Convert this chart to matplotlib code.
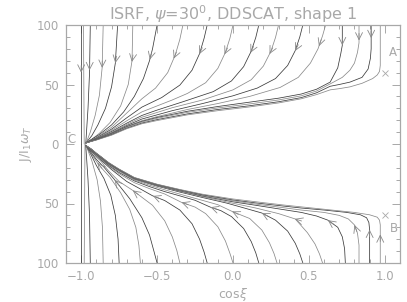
import numpy as np
import matplotlib
matplotlib.use("Agg")
import matplotlib.pyplot as plt

# ---------------- data ----------------
# upper family: trajectories entering from J = +100
upper_c = [
    [-1.0, -1.0],
    [-0.985, -0.98],
    [-0.94, -0.945, -0.955, -0.97],
    [-0.855, -0.862, -0.88, -0.908, -0.94, -0.967],
    [-0.76, -0.775, -0.80, -0.84, -0.89, -0.93, -0.967],
    [-0.66, -0.665, -0.69, -0.74, -0.81, -0.88, -0.93, -0.967],
    [-0.50, -0.53, -0.55, -0.59, -0.65, -0.72, -0.80, -0.88, -0.93, -0.967],
    [-0.33, -0.35, -0.38, -0.43, -0.51, -0.6, -0.7, -0.8, -0.9, -0.967],
    [-0.17, -0.19, -0.22, -0.27, -0.35, -0.47, -0.6, -0.7, -0.8, -0.9, -0.967],
    [0.0, -0.02, -0.05, -0.1, -0.18, -0.3, -0.4, -0.5, -0.6, -0.7, -0.8, -0.9, -0.967],
    [0.17, 0.15, 0.12, 0.07, -0.01, -0.13, -0.33, -0.5, -0.6, -0.7, -0.8, -0.9, -0.967],
    [0.3, 0.28, 0.25, 0.2, 0.12, 0.0, -0.2, -0.4, -0.5, -0.6, -0.7, -0.8, -0.9, -0.967],
    [0.46, 0.44, 0.41, 0.36, 0.28, 0.16, 0.0, -0.2, -0.4, -0.6, -0.7, -0.8, -0.9, -0.967],
    [0.61, 0.59, 0.56, 0.51, 0.43, 0.31, 0.11, -0.1, -0.3, -0.5, -0.6, -0.7, -0.8, -0.9, -0.967],
    [0.72, 0.72, 0.71, 0.69, 0.64, 0.55, 0.45, 0.3, 0.1, -0.1, -0.3, -0.5, -0.6, -0.7, -0.8, -0.9, -0.967],
    [0.83, 0.83, 0.82, 0.8, 0.77, 0.72, 0.64, 0.55, 0.45, 0.3, 0.1, -0.1, -0.3, -0.5, -0.6, -0.7, -0.8, -0.9, -0.967],
    [0.91, 0.91, 0.905, 0.89, 0.85, 0.77, 0.7, 0.64, 0.55, 0.45, 0.3, 0.1, -0.1, -0.3, -0.5, -0.6, -0.7, -0.8, -0.9, -0.967],
    [0.97, 0.97, 0.965, 0.95, 0.92, 0.85, 0.77, 0.7, 0.64, 0.55, 0.45, 0.3, 0.1, -0.1, -0.3, -0.5, -0.6, -0.7, -0.8, -0.9, -0.967],
]
upper_J = [
    [100, 0],
    [100, 0],
    [100, 60, 30, 0],
    [100, 64, 41, 24, 10, 1],
    [100, 68, 48, 30, 16, 7, 1],
    [100, 70, 50, 32, 18, 9, 4, 1],
    [100, 80, 70, 55, 40, 27, 16, 8, 4, 1],
    [100, 88, 75, 60, 47, 38, 26, 14, 5.5, 1],
    [100, 89, 76, 62, 49.5, 39, 31, 22, 12.5, 5, 1],
    [100, 89, 77, 63.5, 51.5, 42.5, 37, 32, 27, 19.5, 11.5, 4.6, 1],
    [100, 89.5, 78, 65, 53, 44, 35.5, 28.5, 24, 17.5, 10.5, 4.3, 1],
    [100, 89.5, 78, 65.5, 54, 45.5, 37, 30.5, 26.5, 22.5, 16.5, 9.8, 4.1, 1],
    [100, 90, 78.5, 66, 55, 47, 40.5, 34, 28, 21, 15.5, 9.2, 3.9, 1],
    [100, 91, 80, 68, 56, 47.5, 40, 34, 29, 23, 19.6, 14.9, 8.8, 3.8, 1],
    [100, 83, 76, 64, 52, 46, 42, 38.5, 35, 31.5, 27.5, 22.3, 19, 14.5, 8.6, 3.7, 1],
    [100, 85, 77, 68, 62, 56, 50.5, 44.5, 40.5, 37, 33.5, 30.3, 26.6, 21.6, 18.5, 14, 8.3, 3.6, 1],
    [100, 80, 72, 63, 56, 52, 50, 48.5, 43, 39, 35.5, 32, 29, 25.3, 20.5, 17.6, 13.3, 7.8, 3.5, 1],
    [100, 66, 61, 58, 55, 51, 48, 46.5, 45.5, 41.5, 38, 34.5, 31, 28, 24.5, 19.7, 17, 12.8, 7.4, 3.3, 1],
]

# lower family: trajectories entering from J = -100
lower_c = [
    [-1.0, -1.0],
    [-0.98, -0.975],
    [-0.94, -0.945, -0.955, -0.97],
    [-0.855, -0.86, -0.873, -0.895, -0.93, -0.967],
    [-0.75, -0.757, -0.775, -0.805, -0.85, -0.9, -0.935, -0.967],
    [-0.61, -0.62, -0.64, -0.68, -0.74, -0.81, -0.86, -0.895, -0.935, -0.967],
    [-0.5, -0.52, -0.55, -0.6, -0.68, -0.78, -0.85, -0.9, -0.935, -0.967],
    [-0.35, -0.37, -0.4, -0.45, -0.53, -0.66, -0.75, -0.82, -0.87, -0.9, -0.935, -0.967],
    [-0.17, -0.19, -0.22, -0.27, -0.35, -0.45, -0.53, -0.6, -0.7, -0.8, -0.87, -0.9, -0.935, -0.967],
    [0.0, -0.02, -0.05, -0.1, -0.18, -0.25, -0.34, -0.45, -0.55, -0.65, -0.75, -0.82, -0.87, -0.9, -0.935, -0.967],
    [0.17, 0.15, 0.12, 0.07, -0.01, -0.08, -0.15, -0.25, -0.35, -0.45, -0.55, -0.65, -0.75, -0.82, -0.87, -0.9, -0.935, -0.967],
    [0.29, 0.27, 0.24, 0.19, 0.11, 0.0, -0.1, -0.2, -0.3, -0.45, -0.55, -0.65, -0.75, -0.82, -0.87, -0.9, -0.935, -0.967],
    [0.46, 0.44, 0.41, 0.36, 0.28, 0.19, 0.08, -0.04, -0.2, -0.35, -0.5, -0.65, -0.75, -0.82, -0.87, -0.9, -0.935, -0.967],
    [0.59, 0.57, 0.54, 0.49, 0.41, 0.3, 0.15, 0.0, -0.2, -0.35, -0.5, -0.65, -0.75, -0.82, -0.87, -0.9, -0.935, -0.967],
    [0.74, 0.735, 0.72, 0.69, 0.625, 0.55, 0.45, 0.3, 0.15, 0.0, -0.2, -0.35, -0.5, -0.65, -0.75, -0.82, -0.87, -0.9, -0.935, -0.967],
    [0.83, 0.83, 0.82, 0.8, 0.76, 0.7, 0.6, 0.45, 0.3, 0.15, 0.0, -0.2, -0.35, -0.5, -0.65, -0.75, -0.82, -0.87, -0.9, -0.935, -0.967],
    [0.9, 0.9, 0.895, 0.88, 0.84, 0.75, 0.6, 0.45, 0.3, 0.15, 0.0, -0.2, -0.35, -0.5, -0.65, -0.75, -0.82, -0.87, -0.9, -0.935, -0.967],
    [0.97, 0.97, 0.965, 0.95, 0.9, 0.8, 0.65, 0.5, 0.35, 0.2, 0.0, -0.2, -0.35, -0.5, -0.65, -0.75, -0.82, -0.87, -0.9, -0.935, -0.967],
]
lower_J = [
    [-100, 0],
    [-100, 0],
    [-100, -60, -30, -1],
    [-100, -70, -48, -30, -14, -1.5],
    [-100, -80, -60, -43, -29, -18, -9, -1.5],
    [-100, -85, -70, -55, -41, -28, -21, -15.5, -8, -1.5],
    [-100, -90.5, -76.5, -62, -46, -30, -19.5, -13, -7, -1.5],
    [-100, -89.5, -78, -64.5, -51.5, -39, -31.5, -22.5, -14.5, -11, -6, -1.5],
    [-100, -91, -80, -67, -55.5, -47.5, -43.5, -38.5, -31.5, -21.5, -13.5, -10, -5.5, -1.5],
    [-100, -92, -81.5, -69.5, -58.5, -53, -49, -42, -37.5, -32.5, -25, -18.5, -12.5, -9.2, -5, -1.5],
    [-100, -91.5, -82, -71, -61, -56, -53, -47.3, -43.6, -40, -35.8, -31, -24, -17.8, -12, -8.8, -4.8, -1.5],
    [-100, -92, -83, -72.3, -62.6, -57, -51, -47.4, -43.9, -38.5, -34.6, -30.3, -23, -17.2, -11.6, -8.5, -4.6, -1.5],
    [-100, -92.3, -83.4, -73.2, -64, -58, -54, -49.7, -45, -40.4, -35.4, -29.5, -22.3, -16.7, -11.3, -8.3, -4.5, -1.5],
    [-100, -92.5, -84, -74.5, -63, -58.5, -53.8, -49.8, -44.3, -39.8, -35, -29.2, -22, -16.4, -11.1, -8.1, -4.4, -1.5],
    [-100, -88, -78, -70, -64, -60.5, -57.5, -54.5, -51.5, -48.6, -43.7, -39.3, -34.6, -28.9, -21.7, -16.1, -10.9, -8, -4.3, -1.5],
    [-100, -85, -75, -68, -63, -60, -57.5, -55.5, -53, -50.5, -47.8, -43.2, -38.9, -34.3, -28.6, -21.5, -15.9, -10.8, -7.9, -4.2, -1.5],
    [-100, -72, -66, -62, -59.5, -57.5, -55.5, -53.8, -51.7, -49.5, -47, -42.7, -38.5, -34, -28.3, -21.3, -15.7, -10.7, -7.8, -4.1, -1.5],
    [-100, -68, -64, -61.5, -59.5, -57.5, -55.5, -53.5, -51.5, -49.3, -46.2, -42.2, -38.2, -33.8, -28.1, -21.1, -15.5, -10.6, -7.7, -4, -1.5],
]

# arrow heads: (curve index, cos xi, J)
upper_arrow_idx = [0, 2, 3, 4, 5, 6, 7, 8, 9, 10, 11, 12, 13, 14, 15, 16]
upper_arrow_c = [-1.0, -0.943, -0.862, -0.776, -0.665, -0.55, -0.395, -0.23, -0.066, 0.11, 0.22, 0.395, 0.57, 0.72, 0.83, 0.91]
upper_arrow_J = [60, 62, 64, 68, 69, 71, 72, 76, 76, 77, 77, 79, 82, 83, 87, 89]
lower_arrow_idx = [5, 6, 7, 8, 9, 10, 11, 12, 13, 14, 15, 16, 17]
lower_arrow_c = [-0.895, -0.78, -0.66, -0.53, -0.34, -0.15, -0.007, 0.19, 0.41, 0.625, 0.8, 0.9, 0.96]
lower_arrow_J = [-16, -30, -39, -44.5, -49.6, -54, -57, -58, -62, -64, -68, -72, -76]

# labelled points
point_labels = ["A", "B", "C"]
point_label_c = [1.05, 1.06, -1.065]
point_label_J = [77, -71, 4]
cross_c = [1.0, 1.0]
cross_J = [60, -60]

xtick_vals = [-1.0, -0.5, 0.0, 0.5, 1.0]
xtick_labels = ["\u22121.0", "\u22120.5", "0.0", "0.5", "1.0"]
ytick_vals = [-100, -50, 0, 50, 100]
ytick_labels = ["100", "50", "0", "50", "100"]

# ---------------- figure ----------------
W, H, DPI = 407, 302, 100
GRAY = "#a8a8a8"
fig = plt.figure(figsize=(W / DPI, H / DPI), dpi=DPI)
ax = fig.add_axes([66 / W, (H - 263) / H, (400 - 66) / W, (263 - 25) / H])
ax.set_xlim(-1.1, 1.1)
ax.set_ylim(-100, 100)

line_colors = ["#3a3a3a", "#8a8a8a"]
for fam_c, fam_J in ((upper_c, upper_J), (lower_c, lower_J)):
    for i, (cs, js) in enumerate(zip(fam_c, fam_J)):
        ax.plot(cs, js, color=line_colors[i % 2], lw=0.55,
                solid_joinstyle="round", solid_capstyle="round")


def add_arrow(cs, js, pc, pj, color="#8a8a8a"):
    pts = ax.transData.transform(np.column_stack([cs, js]))
    p = ax.transData.transform((pc, pj))
    best = None
    for k in range(len(pts) - 1):
        a, b = pts[k], pts[k + 1]
        d = b - a
        l2 = float(d @ d)
        if l2 == 0:
            continue
        t = np.clip(float((p - a) @ d) / l2, 0, 1)
        q = a + t * d
        dist = float(np.hypot(*(p - q)))
        if best is None or dist < best[0]:
            best = (dist, q, d / np.sqrt(l2))
    _, q, u = best
    inv = ax.transData.inverted()
    head = inv.transform(q)
    tail = inv.transform(q - u * 7)
    ax.annotate("", xy=head, xytext=tail,
                arrowprops=dict(arrowstyle="->,head_length=0.5,head_width=0.25",
                                color=color, lw=0.6, shrinkA=0, shrinkB=0))


for k, pc, pj in zip(upper_arrow_idx, upper_arrow_c, upper_arrow_J):
    add_arrow(upper_c[k], upper_J[k], pc, pj)
for k, pc, pj in zip(lower_arrow_idx, lower_arrow_c, lower_arrow_J):
    add_arrow(lower_c[k], lower_J[k], pc, pj)

ax.plot(cross_c, cross_J, linestyle="none", marker="x", ms=4, mew=0.6, color=GRAY)
for t, pc, pj in zip(point_labels, point_label_c, point_label_J):
    ax.text(pc, pj, t, color=GRAY, fontsize=8.5, ha="center", va="center")

# axes styling
for s in ax.spines.values():
    s.set_color(GRAY)
    s.set_linewidth(0.9)
ax.set_xticks(xtick_vals)
ax.set_xticklabels(xtick_labels)
ax.set_yticks(ytick_vals)
ax.set_yticklabels(ytick_labels)
ax.set_xticks(np.arange(-1.0, 1.01, 0.1), minor=True)
ax.set_yticks(np.arange(-100, 101, 10), minor=True)
ax.tick_params(which="both", direction="in", top=True, right=True,
               colors=GRAY, width=0.7, labelsize=8.5, labelcolor=GRAY)
ax.tick_params(which="major", length=6, pad=5)
ax.tick_params(which="minor", length=3)

ax.set_title("ISRF, $\\psi$=30$^0$, DDSCAT, shape 1", color=GRAY, fontsize=11.5, pad=3)
ax.set_xlabel("cos$\\xi$", color=GRAY, fontsize=9, labelpad=2)
ax.set_ylabel("J/I$_1\\omega_T$", color=GRAY, fontsize=9, labelpad=2)

fig.savefig("out.png", dpi=DPI)
